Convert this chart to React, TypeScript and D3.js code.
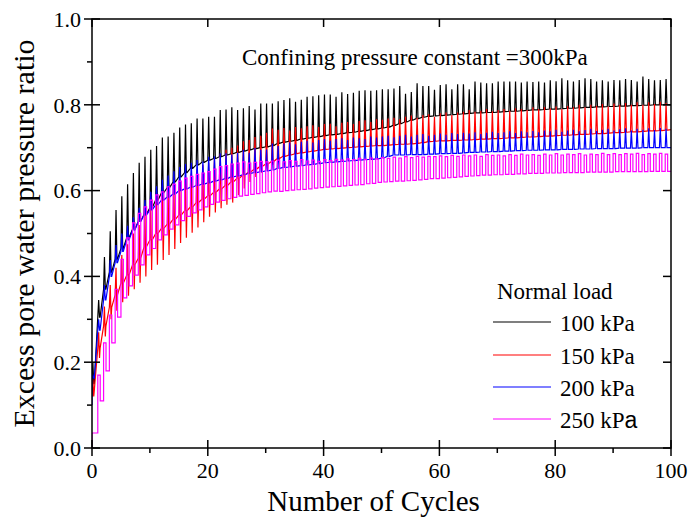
import React from 'react';
import * as d3 from 'd3';

// Axis ticks
const xTicks = [0, 20, 40, 60, 80, 100];
const xMinor = [10, 30, 50, 70, 90];
const yTicks = [0, 0.2, 0.4, 0.6, 0.8, 1.0];
const yMinor = [0.1, 0.3, 0.5, 0.7, 0.9];

const legendLabels = ['100 kPa', '150 kPa', '200 kPa', '250 kPa'];
const seriesColors = ['#000000', '#ff0000', '#0000ff', '#ff00ff'];
// value at the very first sample (x = 0)
const startValues = [0.12, 0.12, 0.1, 0.0];

// per-cycle values, index = cycle number (0..100)
const black100Base = [
  0.15, 0.305, 0.37, 0.41, 0.44, 0.465, 0.49, 0.51, 0.528, 0.545,
  0.56, 0.578, 0.595, 0.607, 0.62, 0.632, 0.642, 0.652, 0.66, 0.666,
  0.671, 0.675, 0.679, 0.683, 0.686, 0.689, 0.692, 0.695, 0.698, 0.7,
  0.702, 0.705, 0.71, 0.713, 0.715, 0.717, 0.72, 0.722, 0.724, 0.726,
  0.728, 0.73, 0.731, 0.733, 0.735, 0.736, 0.738, 0.74, 0.742, 0.744,
  0.746, 0.748, 0.752, 0.756, 0.76, 0.764, 0.768, 0.771, 0.773, 0.774,
  0.775, 0.776, 0.777, 0.778, 0.779, 0.78, 0.781, 0.781, 0.782, 0.782,
  0.783, 0.784, 0.785, 0.785, 0.786, 0.787, 0.788, 0.788, 0.789, 0.79,
  0.79, 0.791, 0.792, 0.792, 0.793, 0.794, 0.794, 0.795, 0.795, 0.796,
  0.796, 0.797, 0.797, 0.798, 0.798, 0.799, 0.799, 0.8, 0.8, 0.8,
  0.8,
];
const black100Peak = [
  0.2, 0.345, 0.445, 0.505, 0.555, 0.587, 0.615, 0.641, 0.665, 0.679,
  0.695, 0.704, 0.724, 0.726, 0.735, 0.747, 0.754, 0.757, 0.768, 0.768,
  0.772, 0.772, 0.788, 0.789, 0.794, 0.788, 0.792, 0.797, 0.789, 0.803,
  0.803, 0.803, 0.808, 0.811, 0.815, 0.807, 0.812, 0.819, 0.82, 0.822,
  0.824, 0.824, 0.819, 0.829, 0.825, 0.828, 0.833, 0.834, 0.833, 0.834,
  0.836, 0.836, 0.838, 0.844, 0.826, 0.83, 0.85, 0.844, 0.844, 0.835,
  0.846, 0.848, 0.836, 0.848, 0.848, 0.836, 0.854, 0.852, 0.85, 0.85,
  0.854, 0.854, 0.854, 0.854, 0.852, 0.854, 0.853, 0.854, 0.852, 0.857,
  0.855, 0.862, 0.857, 0.854, 0.858, 0.862, 0.86, 0.854, 0.857, 0.854,
  0.858, 0.857, 0.86, 0.858, 0.854, 0.866, 0.86, 0.857, 0.858, 0.86,
  0.86,
];

const red150Base = [
  0.135, 0.233, 0.284, 0.328, 0.357, 0.384, 0.403, 0.427, 0.442, 0.469,
  0.485, 0.5, 0.512, 0.522, 0.533, 0.543, 0.553, 0.562, 0.572, 0.58,
  0.588, 0.596, 0.604, 0.612, 0.62, 0.628, 0.636, 0.643, 0.65, 0.656,
  0.662, 0.668, 0.675, 0.68, 0.683, 0.686, 0.688, 0.69, 0.692, 0.694,
  0.696, 0.697, 0.698, 0.699, 0.7, 0.701, 0.702, 0.703, 0.704, 0.705,
  0.705, 0.706, 0.707, 0.708, 0.708, 0.709, 0.71, 0.712, 0.714, 0.715,
  0.716, 0.716, 0.717, 0.717, 0.718, 0.718, 0.719, 0.72, 0.72, 0.721,
  0.721, 0.722, 0.723, 0.723, 0.724, 0.725, 0.725, 0.726, 0.727, 0.727,
  0.728, 0.729, 0.729, 0.73, 0.731, 0.731, 0.732, 0.733, 0.733, 0.734,
  0.735, 0.735, 0.736, 0.737, 0.737, 0.738, 0.739, 0.739, 0.74, 0.741,
  0.742,
];
const red150Peak = [
  0.16, 0.27, 0.33, 0.38, 0.42, 0.45, 0.475, 0.5, 0.52, 0.545,
  0.56, 0.575, 0.59, 0.6, 0.61, 0.62, 0.63, 0.64, 0.65, 0.66,
  0.665, 0.675, 0.685, 0.695, 0.7, 0.705, 0.715, 0.718, 0.725, 0.728,
  0.735, 0.745, 0.742, 0.746, 0.74, 0.748, 0.745, 0.75, 0.752, 0.748,
  0.755, 0.756, 0.75, 0.758, 0.76, 0.755, 0.762, 0.764, 0.76, 0.766,
  0.765, 0.768, 0.77, 0.766, 0.772, 0.775, 0.77, 0.776, 0.778, 0.772,
  0.78, 0.782, 0.776, 0.782, 0.784, 0.788, 0.784, 0.786, 0.79, 0.785,
  0.788, 0.79, 0.786, 0.792, 0.79, 0.788, 0.794, 0.79, 0.795, 0.792,
  0.796, 0.79, 0.797, 0.795, 0.8, 0.794, 0.8, 0.798, 0.802, 0.796,
  0.803, 0.8, 0.804, 0.8, 0.806, 0.8, 0.806, 0.802, 0.807, 0.804,
  0.806,
];
// downward swing in the early cycles (later cycles have none)
const red150Dip = [
  0.12, 0.21, 0.26, 0.3, 0.32, 0.34, 0.355, 0.37, 0.385, 0.4,
  0.415, 0.427, 0.438, 0.45, 0.464, 0.478, 0.49, 0.502, 0.514, 0.526,
  0.539, 0.549, 0.559, 0.567, 0.572, 0.59, 0.605, 0.62, 0.632, 0.642,
  0.65, 0.66, 0.668,
];

const blue200Base = [
  0.163, 0.275, 0.345, 0.4, 0.432, 0.458, 0.485, 0.508, 0.528, 0.543,
  0.555, 0.567, 0.578, 0.585, 0.592, 0.6, 0.604, 0.608, 0.612, 0.615,
  0.618, 0.622, 0.625, 0.628, 0.632, 0.634, 0.637, 0.64, 0.642, 0.644,
  0.646, 0.648, 0.652, 0.654, 0.655, 0.657, 0.658, 0.66, 0.661, 0.663,
  0.665, 0.666, 0.667, 0.668, 0.669, 0.67, 0.671, 0.672, 0.673, 0.674,
  0.676, 0.68, 0.683, 0.683, 0.683, 0.684, 0.684, 0.684, 0.685, 0.685,
  0.686, 0.686, 0.687, 0.687, 0.688, 0.689, 0.689, 0.69, 0.69, 0.691,
  0.691, 0.692, 0.692, 0.693, 0.693, 0.694, 0.694, 0.694, 0.695, 0.695,
  0.695, 0.696, 0.696, 0.696, 0.697, 0.697, 0.697, 0.698, 0.698, 0.698,
  0.698, 0.699, 0.699, 0.699, 0.699, 0.7, 0.7, 0.7, 0.7, 0.7,
  0.7,
];
const blue200Peak = [
  0.17, 0.3, 0.38, 0.438, 0.473, 0.5, 0.518, 0.538, 0.56, 0.578,
  0.597, 0.61, 0.625, 0.635, 0.645, 0.655, 0.662, 0.665, 0.671, 0.668,
  0.679, 0.68, 0.687, 0.687, 0.684, 0.688, 0.695, 0.688, 0.699, 0.695,
  0.696, 0.71, 0.704, 0.71, 0.712, 0.708, 0.714, 0.716, 0.712, 0.718,
  0.72, 0.716, 0.72, 0.722, 0.718, 0.724, 0.722, 0.72, 0.726, 0.724,
  0.726, 0.728, 0.724, 0.728, 0.73, 0.726, 0.73, 0.732, 0.728, 0.73,
  0.733, 0.73, 0.734, 0.732, 0.735, 0.733, 0.736, 0.732, 0.735, 0.737,
  0.734, 0.736, 0.738, 0.734, 0.738, 0.736, 0.739, 0.736, 0.74, 0.738,
  0.742, 0.737, 0.74, 0.742, 0.738, 0.741, 0.744, 0.739, 0.742, 0.744,
  0.74, 0.743, 0.745, 0.74, 0.744, 0.742, 0.745, 0.741, 0.746, 0.744,
  0.745,
];

const mag250Base = [
  0.035, 0.11, 0.18, 0.245, 0.305, 0.35, 0.378, 0.403, 0.427, 0.45,
  0.465, 0.485, 0.497, 0.51, 0.52, 0.53, 0.54, 0.548, 0.555, 0.562,
  0.568, 0.573, 0.577, 0.581, 0.584, 0.587, 0.589, 0.591, 0.593, 0.595,
  0.597, 0.599, 0.598, 0.6, 0.601, 0.602, 0.603, 0.604, 0.606, 0.607,
  0.608, 0.609, 0.61, 0.611, 0.612, 0.613, 0.614, 0.616, 0.617, 0.619,
  0.62, 0.621, 0.622, 0.622, 0.623, 0.624, 0.625, 0.626, 0.628, 0.628,
  0.629, 0.63, 0.631, 0.632, 0.633, 0.634, 0.635, 0.636, 0.636, 0.637,
  0.637, 0.638, 0.638, 0.639, 0.639, 0.64, 0.64, 0.64, 0.641, 0.641,
  0.641, 0.642, 0.642, 0.642, 0.642, 0.643, 0.643, 0.643, 0.643, 0.643,
  0.644, 0.644, 0.644, 0.644, 0.644, 0.644, 0.645, 0.645, 0.645, 0.645,
  0.645,
];
const mag250Peak = [
  0.035, 0.17, 0.245, 0.31, 0.37, 0.44, 0.49, 0.525, 0.547, 0.562,
  0.578, 0.59, 0.597, 0.609, 0.615, 0.622, 0.629, 0.633, 0.638, 0.641,
  0.644, 0.65, 0.656, 0.658, 0.662, 0.664, 0.667, 0.664, 0.666, 0.668,
  0.667, 0.669, 0.671, 0.667, 0.67, 0.668, 0.672, 0.669, 0.671, 0.668,
  0.672, 0.67, 0.673, 0.671, 0.674, 0.672, 0.675, 0.673, 0.676, 0.674,
  0.677, 0.675, 0.678, 0.676, 0.679, 0.677, 0.68, 0.678, 0.68, 0.679,
  0.681, 0.679, 0.682, 0.68, 0.683, 0.681, 0.683, 0.68, 0.684, 0.682,
  0.683, 0.681, 0.684, 0.682, 0.685, 0.683, 0.684, 0.682, 0.685, 0.683,
  0.686, 0.683, 0.685, 0.684, 0.686, 0.683, 0.685, 0.684, 0.687, 0.684,
  0.686, 0.684, 0.686, 0.685, 0.687, 0.684, 0.686, 0.685, 0.687, 0.685,
  0.686,
];

const W = 691;
const H = 519;
const margin = { left: 92, right: 20, top: 19, bottom: 71 };
const FONT = '"Liberation Serif", "Times New Roman", serif';

const x = d3.scaleLinear().domain([0, 100]).range([margin.left, W - margin.right]);
const y = d3.scaleLinear().domain([0, 1]).range([H - margin.bottom, margin.top]);

const line = d3.line<[number, number]>().x(d => x(d[0])).y(d => y(d[1]));

// spike style trace: rise to peak, drop to dip, settle on base
function spikePath(base: number[], peak: number[], dip: number[] | null, start: number) {
  const pts: [number, number][] = [[0, start]];
  for (let i = 0; i < base.length; i++) {
    pts.push([i, base[i]]);
    if (i < base.length - 1) {
      const lo = dip && i < dip.length ? dip[i] : base[i];
      pts.push([i + 0.15, peak[i]]);
      pts.push([i + 0.3, lo]);
      pts.push([i + 0.4, base[i]]);
    }
  }
  return line(pts) || '';
}

// square style trace: jump up, hold, fall back to base
function squarePath(base: number[], peak: number[], start: number, w = 0.42) {
  const pts: [number, number][] = [[0, start], [0, base[0]]];
  for (let i = 0; i < base.length - 1; i++) {
    const prev = i === 0 ? base[0] : base[i - 1];
    pts.push([i, prev]);
    pts.push([i, peak[i]]);
    pts.push([i + w, peak[i]]);
    pts.push([i + w, base[i]]);
  }
  const n = base.length - 1;
  pts.push([n, base[n - 1]]);
  pts.push([n, base[n]]);
  return line(pts) || '';
}

export default function App() {
  const x0 = x.range()[0];
  const x1 = x.range()[1];
  const y0 = y.range()[0];
  const y1 = y.range()[1];

  const paths = [
    spikePath(black100Base, black100Peak, null, startValues[0]),
    spikePath(red150Base, red150Peak, red150Dip, startValues[1]),
    spikePath(blue200Base, blue200Peak, null, startValues[2]),
    squarePath(mag250Base, mag250Peak, startValues[3]),
  ];

  const legendY = [322, 355, 387, 419];

  return (
    <svg
      width={W}
      height={H}
      style={{ position: 'absolute', left: 0, top: 0, background: '#fff' }}
      fontFamily={FONT}
    >
      <defs>
        <clipPath id="plot-clip">
          <rect x={x0} y={y1} width={x1 - x0} height={y0 - y1} />
        </clipPath>
      </defs>

      <g clipPath="url(#plot-clip)" fill="none" strokeWidth={1.2}>
        {paths.map((d, i) => (
          <path key={i} d={d} stroke={seriesColors[i]} />
        ))}
      </g>

      {/* frame */}
      <rect x={x0} y={y1} width={x1 - x0} height={y0 - y1} fill="none" stroke="#000" strokeWidth={1.5} />

      {/* bottom & top ticks */}
      <g stroke="#000" strokeWidth={1.5}>
        {xTicks.map(t => (
          <line key={'xb' + t} x1={x(t)} x2={x(t)} y1={y0 - 8} y2={y0 + 8} />
        ))}
        {xMinor.map(t => (
          <line key={'xm' + t} x1={x(t)} x2={x(t)} y1={y0} y2={y0 + 5} />
        ))}
        {xTicks.map(t => (
          <line key={'xt' + t} x1={x(t)} x2={x(t)} y1={y1} y2={y1 + 8} />
        ))}
        {yTicks.map(t => (
          <line key={'yl' + t} x1={x0 - 8} x2={x0 + 8} y1={y(t)} y2={y(t)} />
        ))}
        {yMinor.map(t => (
          <line key={'ym' + t} x1={x0 - 5} x2={x0} y1={y(t)} y2={y(t)} />
        ))}
        {yTicks.map(t => (
          <line key={'yr' + t} x1={x1 - 8} x2={x1} y1={y(t)} y2={y(t)} />
        ))}
      </g>

      {/* tick labels */}
      <g fontSize={22} fill="#000">
        {xTicks.map(t => (
          <text key={'lx' + t} x={x(t)} y={y0 + 30} textAnchor="middle">{t}</text>
        ))}
        {yTicks.map(t => (
          <text key={'ly' + t} x={x0 - 11} y={y(t)} dy="0.35em" textAnchor="end">{t.toFixed(1)}</text>
        ))}
      </g>

      {/* axis titles */}
      <text x={(x0 + x1) / 2 - 8} y={511} fontSize={29} textAnchor="middle">Number of Cycles</text>
      <text
        transform={`translate(34, ${(y0 + y1) / 2}) rotate(-90)`}
        fontSize={30}
        textAnchor="middle"
      >
        Excess pore water pressure ratio
      </text>

      {/* annotation */}
      <text x={242} y={65} fontSize={23}>Confining pressure constant =300kPa</text>

      {/* legend */}
      <text x={497} y={299} fontSize={23}>Normal load</text>
      {legendLabels.map((lab, i) => (
        <g key={lab}>
          <line x1={493} x2={551} y1={legendY[i]} y2={legendY[i]} stroke={seriesColors[i]} strokeWidth={1.2} />
          {i === 3 ? (
            <text x={560} y={legendY[i] + 9} fontSize={23}>
              {lab.slice(0, -1)}
              <tspan fontFamily='"Liberation Sans", Arial, sans-serif'>{lab.slice(-1)}</tspan>
            </text>
          ) : (
            <text x={560} y={legendY[i] + 9} fontSize={23}>{lab}</text>
          )}
        </g>
      ))}
    </svg>
  );
}
